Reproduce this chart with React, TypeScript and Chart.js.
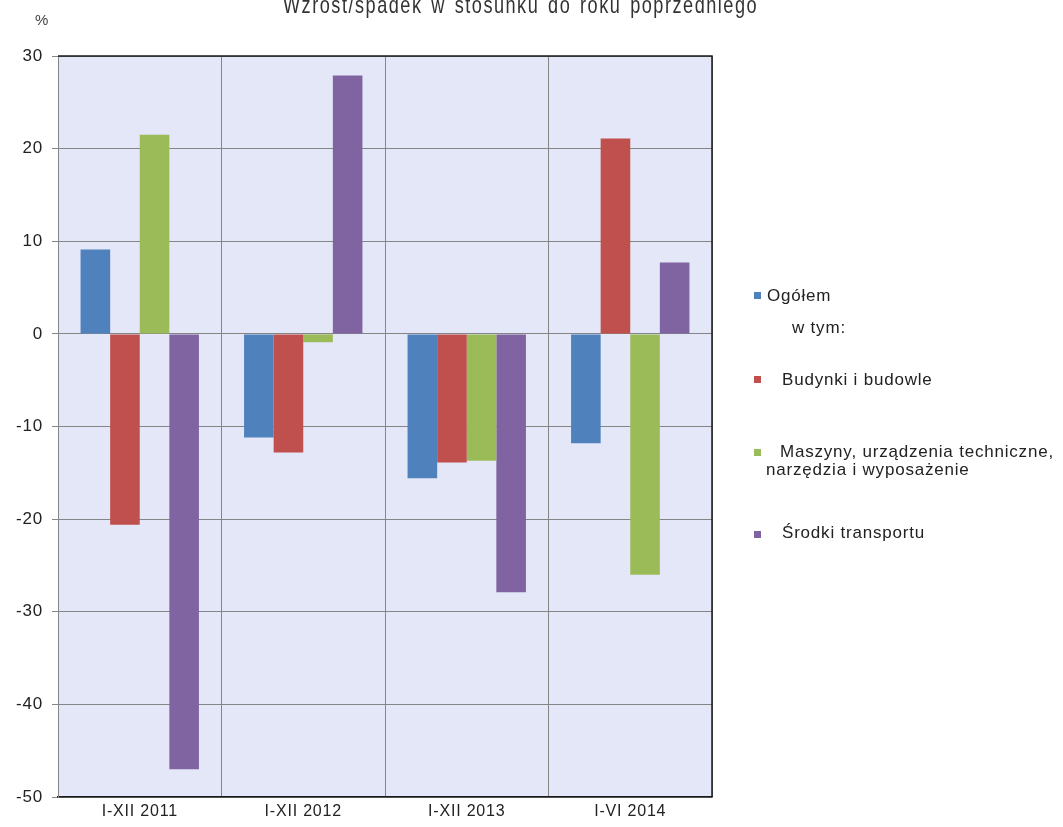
import React, { useEffect, useRef } from "react";
import { Chart, registerables } from "chart.js";

Chart.register(...registerables);

const categories = ["I-XII 2011", "I-XII 2012", "I-XII 2013", "I-VI 2014"];
const ogolem = [9.1, -11.2, -15.6, -11.8];
const budynki = [-20.6, -12.8, -13.9, 21.1];
const maszyny = [21.5, -0.9, -13.7, -26.0];
const srodki = [-47.0, 27.9, -27.9, 7.7];
const seriesNames = [
  "Ogółem",
  "Budynki i budowle",
  "Maszyny, urządzenia techniczne, narzędzia i wyposażenie",
  "Środki transportu",
];
const colors = ["#4F81BD", "#C0504D", "#9BBB59", "#8064A2"];
const yMin = -50;
const yMax = 30;
const yStep = 10;

const FONT = "'Liberation Sans', Arial, sans-serif";

const spacing = {
  id: "spacing",
  beforeUpdate(chart: any) {
    (chart.ctx as any).letterSpacing = "0.8px";
  },
  beforeLayout(chart: any) {
    (chart.ctx as any).letterSpacing = "0.8px";
  },
  beforeDraw(chart: any) {
    (chart.ctx as any).letterSpacing = "0.8px";
  },
};

const plotDecor = {
  id: "plotDecor",
  beforeDraw(chart: any) {
    const { ctx, chartArea } = chart;
    ctx.save();
    ctx.fillStyle = "#E3E7F7";
    ctx.fillRect(chartArea.left, chartArea.top, chartArea.right - chartArea.left, chartArea.bottom - chartArea.top);
    ctx.restore();
  },
  afterDraw(chart: any) {
    const { ctx, chartArea } = chart;
    ctx.save();
    ctx.strokeStyle = "#1a1a1a";
    ctx.lineWidth = 1.5;
    ctx.beginPath();
    ctx.moveTo(chartArea.left, chartArea.top);
    ctx.lineTo(chartArea.right, chartArea.top);
    ctx.lineTo(chartArea.right, chartArea.bottom);
    ctx.stroke();
    ctx.restore();
  },
};

export default function App() {
  const ref = useRef<HTMLCanvasElement | null>(null);
  useEffect(() => {
    if (!ref.current) return;
    const data = [ogolem, budynki, maszyny, srodki];
    const chart = new Chart(ref.current, {
      type: "bar",
      data: {
        labels: categories,
        datasets: data.map((d, i) => ({
          label: seriesNames[i],
          data: d,
          backgroundColor: colors[i],
          borderWidth: 0,
          barPercentage: 1,
          categoryPercentage: 0.724,
        })),
      },
      options: {
        animation: false,
        responsive: true,
        maintainAspectRatio: false,
        layout: { padding: { top: 56, right: 351, left: 0, bottom: 0 } },
        plugins: {
          legend: { display: false },
          title: { display: false },
          tooltip: { enabled: false },
        },
        scales: {
          x: {
            grid: { color: "#858585", lineWidth: 1, offset: true, drawTicks: false },
            border: { color: "#1a1a1a", width: 1.5 },
            ticks: { color: "#222", font: { family: FONT, size: 16 }, padding: 5 },
            afterFit: (s: any) => { s.height = 30; },
          },
          y: {
            min: yMin,
            max: yMax,
            ticks: { stepSize: yStep, color: "#222", font: { family: FONT, size: 17 }, padding: 9 },
            grid: { color: "#858585", lineWidth: 1, tickLength: 6 },
            border: { color: "#858585", width: 1 },
            afterFit: (s: any) => { s.width = 58; },
          },
        },
      },
      plugins: [spacing, plotDecor],
    });
    return () => chart.destroy();
  }, []);

  const legendText: React.CSSProperties = {
    position: "absolute",
    fontFamily: FONT,
    fontSize: 17,
    color: "#222",
    whiteSpace: "nowrap",
    lineHeight: "20px",
    letterSpacing: "0.8px",
  };
  const sq = (c: string, x: number, y: number): React.CSSProperties => ({
    position: "absolute",
    left: x,
    top: y,
    width: 7,
    height: 7,
    background: c,
  });

  return (
    <div style={{ position: "fixed", left: 0, top: 0, width: 1063, height: 827, background: "#fff", overflow: "hidden" }}>
      <canvas ref={ref} style={{ position: "absolute", left: 0, top: 0 }} />
      <div
        style={{
          ...legendText,
          left: 283,
          top: -9,
          fontSize: 24,
          lineHeight: "28px",
          color: "#333",
          letterSpacing: "2px",
          wordSpacing: "3px",
          transform: "scaleX(0.755)",
          transformOrigin: "left top",
        }}
      >
        Wzrost/spadek w stosunku do roku poprzedniego
      </div>
      <div style={{ ...legendText, left: 35, top: 10, fontSize: 15, color: "#444", letterSpacing: "0px" }}>%</div>

      <div style={sq(colors[0], 754, 292)} />
      <div style={{ ...legendText, left: 767, top: 286 }}>{seriesNames[0]}</div>
      <div style={{ ...legendText, left: 792, top: 318 }}>w tym:</div>

      <div style={sq(colors[1], 754, 376)} />
      <div style={{ ...legendText, left: 782, top: 370 }}>{seriesNames[1]}</div>

      <div style={sq(colors[2], 754, 449)} />
      <div style={{ ...legendText, left: 780, top: 442 }}>Maszyny, urządzenia techniczne,</div>
      <div style={{ ...legendText, left: 766, top: 460 }}>narzędzia i wyposażenie</div>

      <div style={sq(colors[3], 754, 531)} />
      <div style={{ ...legendText, left: 782, top: 523 }}>{seriesNames[3]}</div>
    </div>
  );
}
